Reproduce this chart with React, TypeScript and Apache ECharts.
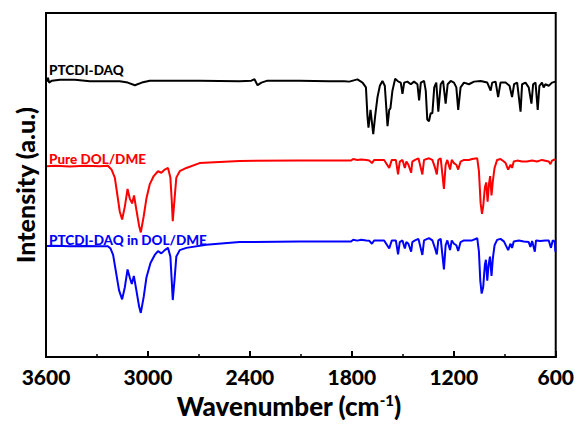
import React, { useEffect, useRef } from "react";
import * as echarts from "echarts";

// [wavenumber (cm-1), intensity (a.u., offset)]
const ptcdiDaq: [number, number][] = [
  [3594,285],[3588,289],[3582,284],[3565,286],[3518,287],[3430,287],[3342,285.5],[3166,285.5],[3119,284],[3077,281.3],[3036,284],[2989,286],[2696,286],[2461,285.5],[2391,286],[2373,287.5],[2355,281.3],[2332,284],[2297,286],[2109,286],[1933,285.5],[1845,285.5],[1815,285],[1767,287.3],[1737,284],[1717,279],[1708,249],[1702,237.3],[1690,255.7],[1674,230.7],[1663,249],[1649,269],[1635,280.7],[1620,285.7],[1606,280.7],[1590,239],[1580,255.7],[1573,257.3],[1561,275.7],[1545,288],[1526,285],[1512,284],[1502,272.3],[1492,284],[1473,285],[1453,282.3],[1434,285],[1414,282.3],[1404,265.7],[1394,284],[1375,285.7],[1365,275.7],[1356,245.7],[1346,244],[1336,252.3],[1326,252.3],[1315,279],[1303,284],[1291,254],[1277,282.3],[1263,285.7],[1248,262.3],[1236,282.3],[1218,285.7],[1199,284],[1185,279],[1174,255.7],[1160,279],[1140,284],[1111,282.3],[1081,285],[1042,285.7],[1003,284],[983,275.7],[974,284],[954,285],[939,269],[925,284],[895,284],[872,280.7],[857,269],[845,282.3],[827,284],[807,254],[798,282.3],[778,284],[759,279],[743,262.3],[733,282.3],[719,284],[706,255.7],[696,280.7],[681,284],[671,279],[661,282.3],[641,280.7],[622,284],[602,285]
];

const pureDolDme: [number, number][] = [
  [3594,197.5],[3547,198],[3459,197.3],[3371,198],[3283,197.5],[3236,198],[3214,194],[3195,185.7],[3181,169],[3166,150.7],[3152,142.3],[3136,155.7],[3120,174],[3107,164],[3093,159],[3082,167.3],[3068,152.3],[3052,135.7],[3042,129],[3025,145.7],[3009,164],[2989,179],[2966,187.3],[2941,192.3],[2921,190.7],[2901,194],[2882,195.7],[2868,185.7],[2860,162.3],[2854,140.7],[2844,162.3],[2833,185.7],[2813,192.3],[2774,195.7],[2696,200.7],[2461,203],[2109,203.3],[1804,203.3],[1792,205],[1768,204],[1745,204.5],[1715,204],[1698,203.5],[1682,200.7],[1668,204],[1610,204],[1580,195.7],[1565,204],[1541,204],[1528,189],[1518,202.3],[1502,204],[1488,195.7],[1479,202.3],[1467,199],[1451,190.7],[1444,202.3],[1428,204],[1408,205.7],[1385,189],[1375,204],[1346,205.7],[1326,204],[1310,195.7],[1300,189],[1291,204],[1277,205.7],[1258,174],[1248,199],[1238,204],[1222,194],[1212,204],[1199,200.7],[1185,199],[1174,194],[1160,202.3],[1140,204],[1111,204],[1092,205],[1062,205.7],[1052,192.3],[1042,159],[1034,148.3],[1027,155.7],[1017,175.7],[1009,180.7],[1001,160.7],[993,179],[986,187.3],[978,167.3],[970,182.3],[960,195.7],[945,204],[925,205],[905,202.3],[895,200.7],[880,194],[866,199],[857,195.7],[847,202.3],[827,203.3],[798,202.3],[769,202.3],[739,203.3],[710,202.3],[681,204],[641,202.3],[631,199.7],[622,203.3],[602,204.7]
];

const ptcdiDaqInDolDme: [number, number][] = [
  [3594,115],[3547,115.3],[3459,114.7],[3371,115],[3283,114.7],[3236,114.7],[3220,112.3],[3205,105.7],[3189,89],[3170,69],[3152,59.7],[3136,72.3],[3120,90.7],[3107,82.3],[3095,75.7],[3083,84],[3068,69],[3052,52.3],[3042,45.7],[3025,62.3],[3009,82.3],[2985,97.3],[2960,105.7],[2941,109.7],[2921,107.3],[2901,110.7],[2882,113],[2868,104],[2860,79],[2854,59],[2844,79],[2833,104],[2813,110.7],[2774,113],[2657,116.3],[2461,119],[2109,119.7],[1804,119.7],[1792,121.5],[1768,120.5],[1745,121.3],[1715,120.7],[1698,120.5],[1682,117.3],[1668,120.7],[1610,120.7],[1580,112.3],[1565,120.7],[1541,120.7],[1528,106.3],[1518,119],[1502,120.7],[1488,112.3],[1479,119],[1467,117.3],[1451,109],[1444,119],[1428,120.7],[1408,122.3],[1385,105.7],[1375,120.7],[1346,123],[1326,120.7],[1310,112.3],[1300,106.3],[1291,120.7],[1277,122.3],[1258,90.7],[1248,115.7],[1238,120.7],[1222,110.7],[1212,120.7],[1199,117.3],[1185,115.7],[1174,109.7],[1160,119],[1140,120.7],[1111,120.7],[1092,120.7],[1062,123],[1052,109],[1044,79],[1036,65.7],[1027,72.3],[1017,95.7],[1011,100.7],[1003,79],[995,95.7],[987,104],[978,84],[970,102.3],[960,115.7],[945,121.3],[925,122.3],[905,119.7],[880,110.7],[866,117.3],[857,113],[847,119.7],[817,120.7],[788,119.7],[759,119],[749,114],[739,120],[723,109],[716,120.7],[690,120],[661,120.7],[641,120.7],[628,113],[618,120.7],[606,119.7],[602,109]
];

const seriesNames = ["PTCDI-DAQ", "Pure DOL/DME", "PTCDI-DAQ in DOL/DME"];
const seriesColors = ["#000000", "#ff0000", "#0000ff"];
const seriesData = [ptcdiDaq, pureDolDme, ptcdiDaqInDolDme];

const FONT = "Lato, 'Open Sans', sans-serif";

export default function App() {
  const ref = useRef<HTMLDivElement>(null);
  useEffect(() => {
    if (!ref.current) return;
    const chart = echarts.init(ref.current, null, { renderer: "svg" });
    chart.setOption({
      animation: false,
      backgroundColor: "#ffffff",
      grid: {
        left: 46,
        right: 20,
        top: 13,
        bottom: 55,
        show: true,
        borderColor: "#000",
        borderWidth: 2,
      },
      xAxis: {
        type: "value",
        inverse: true,
        min: 600,
        max: 3600,
        interval: 600,
        name: "{a|Wavenumber (cm}{b|-1}{a|)}",
        nameLocation: "middle",
        nameGap: 25,
        nameTextStyle: {
          padding: [0, 24, 0, 0],
          rich: {
            a: { fontFamily: FONT, fontWeight: 900, fontSize: 26, color: "#000", lineHeight: 28 },
            b: { fontFamily: FONT, fontWeight: 900, fontSize: 15, color: "#000", verticalAlign: "top", lineHeight: 28 },
          },
        },
        axisLine: { show: true, lineStyle: { color: "#000", width: 2 } },
        axisTick: { show: true, inside: true, length: 6, lineStyle: { color: "#000", width: 2 } },
        minorTick: { show: true, splitNumber: 2, length: 3, lineStyle: { color: "#000", width: 1.5 } },
        splitLine: { show: false },
        axisLabel: {
          fontFamily: FONT,
          fontWeight: 900,
          fontSize: 21,
          color: "#000",
          margin: 9,
          formatter: (v: number) => String(v),
        },
      },
      yAxis: {
        type: "value",
        min: 0,
        max: 356,
        name: "Intensity (a.u.)",
        nameLocation: "middle",
        nameGap: 9,
        nameTextStyle: { fontFamily: FONT, fontWeight: 900, fontSize: 25, color: "#000" },
        axisLine: { show: true, lineStyle: { color: "#000", width: 2 } },
        axisTick: { show: false },
        axisLabel: { show: false },
        splitLine: { show: false },
      },
      series: seriesData.map((d, i) => ({
        type: "line",
        name: seriesNames[i],
        data: d,
        showSymbol: false,
        symbol: "none",
        lineStyle: { color: seriesColors[i], width: 2 },
        z: 3 - i,
      })),
      graphic: [
        { type: "text", left: 49, top: 63, style: { text: seriesNames[0], fill: seriesColors[0], font: `900 13.5px ${FONT}` } },
        { type: "text", left: 49, top: 152, style: { text: seriesNames[1], fill: seriesColors[1], font: `900 13.5px ${FONT}` } },
        { type: "text", left: 49, top: 233, style: { text: seriesNames[2], fill: seriesColors[2], font: `900 13.5px ${FONT}` } },
      ],
    });
    return () => chart.dispose();
  }, []);
  return <div ref={ref} style={{ position: "absolute", left: 0, top: 0, width: 577, height: 424 }} />;
}
